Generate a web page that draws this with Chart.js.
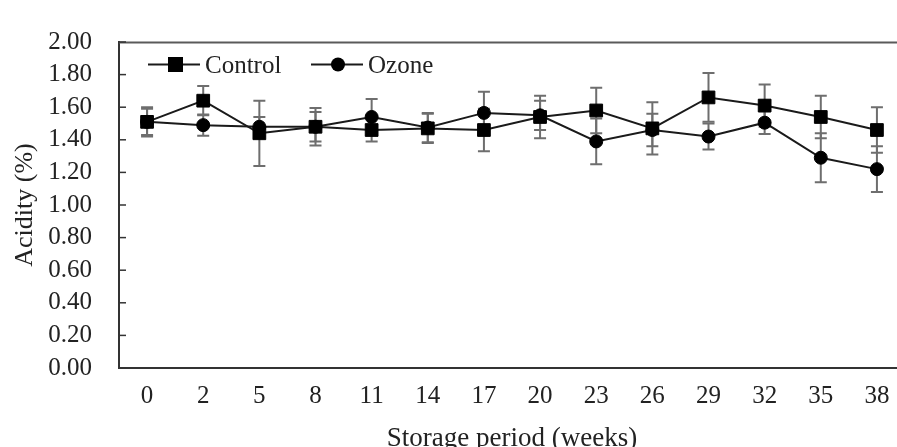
<!DOCTYPE html>
<html>
<head>
<meta charset="utf-8">
<script src="https://cdn.jsdelivr.net/npm/chart.js@4"></script>
<style>
  html, body { margin: 0; padding: 0; background: #fff; overflow: hidden; }
  #chart { display: block; }
</style>
</head>
<body>
<canvas id="chart" width="915" height="447"></canvas>
<script>
const weeks = ['0', '2', '5', '8', '11', '14', '17', '20', '23', '26', '29', '32', '35', '38'];
const control = [1.51, 1.64, 1.44, 1.48, 1.46, 1.47, 1.46, 1.54, 1.58, 1.47, 1.66, 1.61, 1.54, 1.46];
const controlErr = [0.09, 0.09, 0.20, 0.115, 0.07, 0.09, 0.13, 0.13, 0.14, 0.16, 0.15, 0.13, 0.13, 0.14];
const ozone = [1.51, 1.49, 1.48, 1.48, 1.54, 1.475, 1.565, 1.55, 1.39, 1.46, 1.42, 1.505, 1.29, 1.22];
const ozoneErr = [0.08, 0.065, 0.06, 0.09, 0.11, 0.09, 0.13, 0.09, 0.14, 0.10, 0.08, 0.07, 0.15, 0.14];
const yTicks = [0, 0.2, 0.4, 0.6, 0.8, 1.0, 1.2, 1.4, 1.6, 1.8, 2.0];

const serif = "'Liberation Serif', 'Times New Roman', serif";
const errors = [controlErr, ozoneErr];

// error bars, drawn under the markers
const errorBars = {
  id: 'errorBars',
  beforeDatasetsDraw(chart) {
    const ctx = chart.ctx;
    const x = chart.scales.x;
    const y = chart.scales.y;
    ctx.save();
    ctx.strokeStyle = '#6e6e6e';
    ctx.lineWidth = 2;
    chart.data.datasets.forEach((ds, i) => {
      ds.data.forEach((v, j) => {
        const px = x.getPixelForValue(j);
        const top = y.getPixelForValue(v + errors[i][j]);
        const bot = y.getPixelForValue(v - errors[i][j]);
        ctx.beginPath();
        ctx.moveTo(px, top); ctx.lineTo(px, bot);
        ctx.moveTo(px - 6, top); ctx.lineTo(px + 6, top);
        ctx.moveTo(px - 6, bot); ctx.lineTo(px + 6, bot);
        ctx.stroke();
      });
    });
    ctx.restore();
  }
};

// top border, inside y tick marks and the legend
const frame = {
  id: 'frame',
  afterDraw(chart) {
    const ctx = chart.ctx;
    const a = chart.chartArea;
    const y = chart.scales.y;
    ctx.save();
    ctx.strokeStyle = '#5a5a5a';
    ctx.lineWidth = 2;
    ctx.beginPath();
    ctx.moveTo(a.left, a.top + 0.5);
    ctx.lineTo(a.right, a.top + 0.5);
    ctx.stroke();

    ctx.strokeStyle = '#333';
    ctx.lineWidth = 1.5;
    y.ticks.forEach(t => {
      const py = y.getPixelForValue(t.value);
      ctx.beginPath();
      ctx.moveTo(a.left, py);
      ctx.lineTo(a.left + 7, py);
      ctx.stroke();
    });

    const ly = a.top + 22.5;
    const items = [
      { x: a.left + 29, label: 'Control', style: 'rect' },
      { x: a.left + 192, label: 'Ozone', style: 'circle' }
    ];
    ctx.font = '25px ' + serif;
    ctx.textBaseline = 'alphabetic';
    items.forEach(it => {
      ctx.strokeStyle = '#1a1a1a';
      ctx.lineWidth = 2;
      ctx.beginPath();
      ctx.moveTo(it.x, ly);
      ctx.lineTo(it.x + 52, ly);
      ctx.stroke();
      ctx.fillStyle = '#000';
      if (it.style === 'rect') {
        ctx.fillRect(it.x + 20, ly - 7.5, 15, 15);
      } else {
        ctx.beginPath();
        ctx.arc(it.x + 27, ly, 7, 0, Math.PI * 2);
        ctx.fill();
      }
      ctx.fillStyle = '#222';
      ctx.fillText(it.label, it.x + 57, ly + 8);
    });
    ctx.restore();
  }
};

new Chart(document.getElementById('chart'), {
  type: 'line',
  data: {
    labels: weeks,
    datasets: [
      {
        label: 'Control',
        data: control,
        borderColor: '#1a1a1a',
        borderWidth: 2,
        pointStyle: 'rect',
        pointRadius: 9,
        pointBackgroundColor: '#000',
        pointBorderColor: '#000',
        pointBorderWidth: 1,
        tension: 0
      },
      {
        label: 'Ozone',
        data: ozone,
        borderColor: '#1a1a1a',
        borderWidth: 2,
        pointStyle: 'circle',
        pointRadius: 6.5,
        pointBackgroundColor: '#000',
        pointBorderColor: '#000',
        pointBorderWidth: 1,
        tension: 0
      }
    ]
  },
  options: {
    responsive: false,
    animation: false,
    layout: { padding: { top: 24, right: 6, left: 0, bottom: 0 } },
    plugins: {
      legend: { display: false },
      tooltip: { enabled: false }
    },
    scales: {
      x: {
        offset: true,
        grid: { display: false, drawTicks: false },
        border: { display: true, color: '#333', width: 2 },
        ticks: {
          color: '#222',
          font: { family: serif, size: 25 },
          padding: 13,
          maxRotation: 0,
          autoSkip: false
        },
        title: {
          display: true,
          text: 'Storage period (weeks)',
          color: '#222',
          font: { family: serif, size: 27 },
          padding: { top: 0, bottom: -8 }
        },
        afterFit(scale) { scale.height = 79; }
      },
      y: {
        min: 0,
        max: 2,
        afterBuildTicks(scale) { scale.ticks = yTicks.map(v => ({ value: v })); },
        grid: { display: false, drawTicks: false },
        border: { display: true, color: '#333', width: 2 },
        ticks: {
          color: '#222',
          font: { family: serif, size: 25 },
          padding: 27,
          autoSkip: false,
          callback: v => v.toFixed(2)
        },
        title: {
          display: true,
          text: 'Acidity (%)',
          color: '#222',
          font: { family: serif, size: 26 },
          padding: { top: 10, bottom: 0 }
        },
        afterFit(scale) { scale.width = 119; }
      }
    }
  },
  plugins: [errorBars, frame]
});
</script>
</body>
</html>
